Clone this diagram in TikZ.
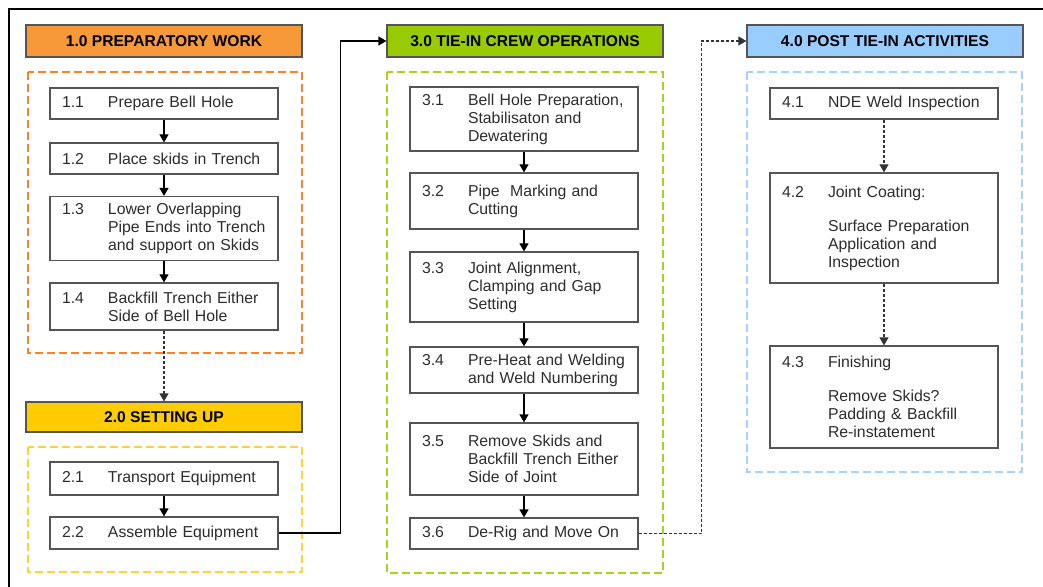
\documentclass[tikz,border=0pt]{standalone}
\usepackage{fontspec}
\setmainfont{Liberation Sans}
\usetikzlibrary{arrows.meta}

\definecolor{prepfill}{RGB}{247,153,56}
\definecolor{prepline}{RGB}{255,128,42}
\definecolor{setfill}{RGB}{255,204,0}
\definecolor{setline}{RGB}{255,212,50}
\definecolor{crewfill}{RGB}{153,204,0}
\definecolor{crewline}{RGB}{162,212,40}
\definecolor{postfill}{RGB}{153,204,255}
\definecolor{postline}{RGB}{165,208,255}
\definecolor{boxline}{RGB}{85,85,85}
\definecolor{boxtext}{RGB}{45,45,45}

% number column, then the description
\newcommand{\tasktext}[2]{\makebox[23pt][l]{#1}\parbox[t]{79pt}{\raggedright #2}}

\begin{document}
\begin{tikzpicture}[x=0.5pt,y=-0.5pt,
  head/.style={draw=boxline,line width=0.6pt,minimum width=138pt,minimum height=16pt,
    inner sep=0pt,font=\fontsize{7.8}{9}\selectfont\bfseries},
  task/.style={draw=boxline,line width=0.6pt,fill=white,text=boxtext,text width=102pt,
    inner xsep=6pt,align=left,font=\fontsize{7.9}{9}\selectfont},
  frame/.style={line width=1pt,dash pattern=on 4pt off 2pt},
  link/.style={line width=0.6pt,-{Triangle[width=4.5pt,length=4pt]}},
  dashlink/.style={link,draw=black!80,dash pattern=on 1.5pt off 1pt}]

\useasboundingbox (0,0) rectangle (1043,587);
\draw[line width=1pt] (9,587) -- (9,9) -- (1043,9);

%%%%%%%%%%%%%%%%%%%%%%%%
% 1.0 and 2.0
%%%%%%%%%%%%%%%%%%%%%%%%

\begin{scope}[shift={(164,0)}]

\node[head,fill=prepfill](10) at (0,41) {1.0 PREPARATORY WORK};
\draw[frame,prepline] (-136,72) rectangle (138,353);

\node[task,minimum height=15.5pt](11) at (0,103.5) {\tasktext{1.1}{Prepare Bell Hole}};
\node[task,minimum height=15.5pt](12) at (0,158.5) {\tasktext{1.2}{Place skids in Trench}};
\node[task,minimum height=31.5pt](13) at (0,228.5) {\tasktext{1.3}{Lower Overlapping\\Pipe Ends into Trench\\and support on Skids}};
\node[task,minimum height=23.5pt](14) at (0,306.5) {\tasktext{1.4}{Backfill Trench Either\\Side of Bell Hole}};

\node[head,fill=setfill,minimum height=15pt](20) at (0,417) {2.0 SETTING UP};
\draw[frame,setline] (-136,447) rectangle (138,572);

\node[task,minimum height=16.5pt](21) at (0,478.5) {\tasktext{2.1}{Transport Equipment}};
\node[task,minimum height=16pt](22) at (0,533) {\tasktext{2.2}{Assemble Equipment}};

\draw[link] (11) -- (12);
\draw[link] (12) -- (13);
\draw[link] (13) -- (14);
\draw[dashlink] (14) -- (20);
\draw[link] (21) -- (22);

\end{scope}

%%%%%%%%%%%%%%%%%%%%%%%%
% 3.0
%%%%%%%%%%%%%%%%%%%%%%%%

\begin{scope}[shift={(524,0)}]

\node[head,fill=crewfill](30) at (1,41) {3.0 TIE-IN CREW OPERATIONS};
\draw[frame,crewline] (-137,72) rectangle (139,573);

\node[task,minimum height=31pt](31) at (0,119) {\tasktext{3.1}{Bell Hole Preparation,\\Stabilisaton and\\Dewatering}};
\node[task,minimum height=28pt](32) at (0,201) {\tasktext{3.2}{Pipe\ \ Marking and\\Cutting}};
\node[task,minimum height=35pt](33) at (0,287) {\tasktext{3.3}{Joint Alignment,\\Clamping and Gap\\Setting}};
\node[task,minimum height=23pt](34) at (0,370) {\tasktext{3.4}{Pre-Heat and Welding\\and Weld Numbering}};
\node[task,minimum height=36pt](35) at (0,459) {\tasktext{3.5}{Remove Skids and\\Backfill Trench Either\\Side of Joint}};
\node[task,minimum height=15.5pt](36) at (0,533.5) {\tasktext{3.6}{De-Rig and Move On}};

\draw[link] (31) -- (32);
\draw[link] (32) -- (33);
\draw[link] (33) -- (34);
\draw[link] (34) -- (35);
\draw[link] (35) -- (36);

\end{scope}

%%%%%%%%%%%%%%%%%%%%%%%%
% 4.0
%%%%%%%%%%%%%%%%%%%%%%%%

\begin{scope}[shift={(884,0)}]

\node[head,fill=postfill](40) at (1,41) {4.0 POST TIE-IN ACTIVITIES};
\draw[frame,postline] (-137,72) rectangle (138,472);

\node[task,minimum height=15.5pt](41) at (0,103.5) {\tasktext{4.1}{NDE Weld Inspection}};
\node[task,minimum height=55pt](42) at (0,228) {\tasktext{4.2}{Joint Coating:\\[8pt]Surface Preparation\\Application and\\Inspection}};
\node[task,minimum height=51pt](43) at (0,397) {\tasktext{4.3}{Finishing\\[8pt]Remove Skids?\\Padding \& Backfill\\Re-instatement}};

\draw[dashlink] (41) -- (42);
\draw[dashlink] (42) -- (43);

\end{scope}

% hand-over between the phases
\draw[link] (22.east) -- ++(62,0) |- (30.west);
\draw[dashlink] (36.east) -- ++(63,0) |- (40.west);

\end{tikzpicture}
\end{document}
